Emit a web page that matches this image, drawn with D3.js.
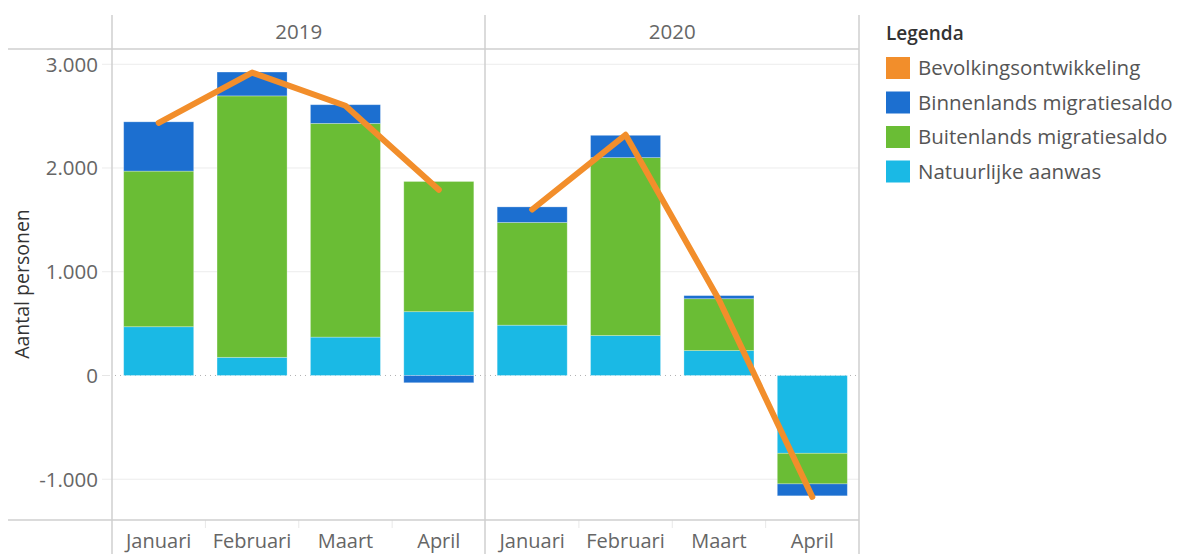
<!DOCTYPE html>
<html>
<head>
<meta charset="utf-8">
<script src="https://cdn.jsdelivr.net/npm/d3@7"></script>
<style>
  body { margin: 0; background: #fff; }
  svg { display: block; font-family: "Open Sans", sans-serif; }
</style>
</head>
<body>
<div id="chart"></div>
<script>

// data, per year the months jan - apr
var years = ["2019", "2020"]
var months = ["Januari", "Februari", "Maart", "April"]
var natuurlijke_aanwas = [470, 175, 370, 615, 485, 385, 240, -750]
var buitenlands_saldo = [1500, 2520, 2060, 1255, 990, 1715, 500, -295]
var binnenlands_saldo = [475, 230, 180, -70, 150, 215, 30, -115]
var bevolking = [2435, 2920, 2600, 1790, 1600, 2320, 730, -1170]
var y_ticks = [-1000, 0, 1000, 2000, 3000]

var legend_names = ["Bevolkingsontwikkeling", "Binnenlands migratiesaldo", "Buitenlands migratiesaldo", "Natuurlijke aanwas"]
var legend_colors = ["#f28e2b", "#1c6fd0", "#6abd35", "#1ab9e5"]

var width = 1185
var height = 554

var svg = d3.select("#chart").append("svg")
  .attr("width", width)
  .attr("height", height)

// panel edges
var left = 112
var right = 859
var top_line = 49
var bottom_line = 520
var mid = 485

var y = d3.scaleLinear()
  .domain([-1393, 3147])
  .range([bottom_line, top_line])

var panel_x = d3.scaleBand()
  .domain(years)
  .range([left, right])

// build rows for the stack
var rows = []
years.forEach(function(year, i){
  months.forEach(function(month, j){
    var k = i * months.length + j
    rows.push({
      year: year,
      month: month,
      nat: natuurlijke_aanwas[k],
      buiten: buitenlands_saldo[k],
      binnen: binnenlands_saldo[k],
      totaal: bevolking[k]
    })
  })
})

var stack = d3.stack()
  .keys(["nat", "buiten", "binnen"])
  .offset(d3.stackOffsetDiverging)
var series = stack(rows)
var series_colors = {nat: legend_colors[3], buiten: legend_colors[2], binnen: legend_colors[1]}

// dutch number format, plain hyphen for negatives
function format_nl(d){
  return d3.format(",")(Math.abs(d)).replace(/,/g, ".").replace(/^/, d < 0 ? "-" : "")
}

// gridlines
svg.append("g").selectAll("line")
  .data(y_ticks.filter(function(d){ return d != 0 }))
  .enter().append("line")
  .attr("x1", 102)
  .attr("x2", right)
  .attr("y1", function(d){ return y(d) })
  .attr("y2", function(d){ return y(d) })
  .attr("stroke", "#ececec")
  .attr("stroke-width", 1)

// zero line, dotted in the panes
svg.append("line")
  .attr("x1", 102).attr("x2", 110)
  .attr("y1", y(0)).attr("y2", y(0))
  .attr("stroke", "#e6e6e6")
svg.append("line")
  .attr("x1", left + 3).attr("x2", right)
  .attr("y1", y(0)).attr("y2", y(0))
  .attr("stroke", "#b0b0b0")
  .attr("stroke-dasharray", "1,4")

// y tick labels
svg.append("g").selectAll("text")
  .data(y_ticks)
  .enter().append("text")
  .attr("x", 98)
  .attr("y", function(d){ return y(d) })
  .attr("dy", "0.36em")
  .attr("text-anchor", "end")
  .attr("font-size", 20.5)
  .attr("fill", "#666")
  .text(format_nl)

// y axis title
svg.append("text")
  .attr("transform", "translate(29, 284) rotate(-90)")
  .attr("text-anchor", "middle")
  .attr("font-size", 19.5)
  .attr("fill", "#333")
  .text("Aantal personen")

// each year panel
years.forEach(function(year){

  var x = d3.scaleBand()
    .domain(months)
    .range([panel_x(year), panel_x(year) + panel_x.bandwidth()])
    .paddingInner(0.25)
    .paddingOuter(0.125)

  // year header
  svg.append("text")
    .attr("x", panel_x(year) + panel_x.bandwidth() / 2)
    .attr("y", 32)
    .attr("dy", "0.36em")
    .attr("text-anchor", "middle")
    .attr("font-size", 20.5)
    .attr("fill", "#666")
    .text(year)

  // stacked bars
  series.forEach(function(s){
    svg.append("g").selectAll("rect")
      .data(s.filter(function(d){ return d.data.year == year }))
      .enter().append("rect")
      .attr("x", function(d){ return x(d.data.month) })
      .attr("width", x.bandwidth())
      .attr("y", function(d){ return y(Math.max(d[0], d[1])) })
      .attr("height", function(d){ return Math.abs(y(d[0]) - y(d[1])) })
      .attr("fill", series_colors[s.key])
      .attr("stroke", "#fff")
      .attr("stroke-opacity", 0.35)
      .attr("stroke-width", 0.8)
  })

  // month labels
  svg.append("g").selectAll("text")
    .data(months)
    .enter().append("text")
    .attr("x", function(d){ return x(d) + x.bandwidth() / 2 })
    .attr("y", 541)
    .attr("dy", "0.36em")
    .attr("text-anchor", "middle")
    .attr("font-size", 20)
    .attr("fill", "#666")
    .text(function(d){ return d })

  // small separators between month labels
  svg.append("g").selectAll("line")
    .data(months.slice(1))
    .enter().append("line")
    .attr("x1", function(d){ return x(d) - x.step() * x.paddingInner() / 2 })
    .attr("x2", function(d){ return x(d) - x.step() * x.paddingInner() / 2 })
    .attr("y1", bottom_line)
    .attr("y2", bottom_line + 8)
    .attr("stroke", "#e8e8e8")

  // population line
  var line = d3.line()
    .x(function(d){ return x(d.month) + x.bandwidth() / 2 })
    .y(function(d){ return y(d.totaal) })

  svg.append("path")
    .datum(rows.filter(function(d){ return d.year == year }))
    .attr("d", line)
    .attr("fill", "none")
    .attr("stroke", legend_colors[0])
    .attr("stroke-width", 6)
    .attr("stroke-linecap", "round")
    .attr("stroke-linejoin", "round")
})

// frame lines
svg.append("g").selectAll("line")
  .data([top_line, bottom_line])
  .enter().append("line")
  .attr("x1", 8).attr("x2", right)
  .attr("y1", function(d){ return d }).attr("y2", function(d){ return d })
  .attr("stroke", "#cfcfcf")
  .attr("stroke-width", 1.5)

svg.append("g").selectAll("line")
  .data([left, mid, right])
  .enter().append("line")
  .attr("x1", function(d){ return d }).attr("x2", function(d){ return d })
  .attr("y1", 15).attr("y2", height)
  .attr("stroke", "#cfcfcf")
  .attr("stroke-width", 1.5)

// legend
var legend = svg.append("g")
  .attr("transform", "translate(886, 0)")

legend.append("text")
  .attr("x", 0)
  .attr("y", 33)
  .attr("dy", "0.36em")
  .attr("font-size", 19)
  .attr("font-weight", 600)
  .attr("fill", "#333")
  .text("Legenda")

var items = legend.selectAll("g.item")
  .data(legend_names)
  .enter().append("g")
  .attr("class", "item")
  .attr("transform", function(d, i){ return "translate(0," + (68 + i * 34.5) + ")" })

items.append("rect")
  .attr("x", 0)
  .attr("y", -11)
  .attr("width", 24)
  .attr("height", 22)
  .attr("fill", function(d, i){ return legend_colors[i] })

items.append("text")
  .attr("x", 32)
  .attr("dy", "0.36em")
  .attr("font-size", 20.5)
  .attr("fill", "#555")
  .text(function(d){ return d })

</script>
</body>
</html>
